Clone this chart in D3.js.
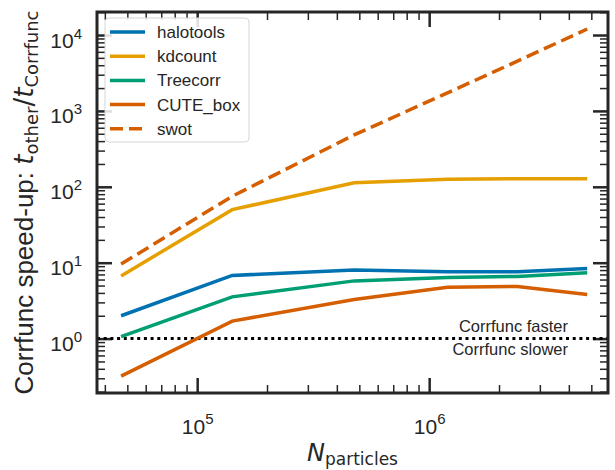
<!DOCTYPE html>
<html>
<head>
<meta charset="utf-8">
<script src="https://cdn.jsdelivr.net/npm/d3@7"></script>
<style>
  body { margin: 0; background: #fff; }
  text { font-family: "Liberation Sans", Arial, sans-serif; fill: #262626; }
</style>
</head>
<body>
<script>
// chart data
var nParticles = [47000, 141600, 475000, 1200000, 2400000, 4800000];
var halotools  = [2.0, 6.8, 8.0, 7.6, 7.6, 8.4];
var kdcount    = [6.7, 50, 113, 126, 128, 128];
var treecorr   = [1.06, 3.55, 5.76, 6.4, 6.6, 7.4];
var cuteBox    = [0.32, 1.70, 3.28, 4.76, 4.86, 3.81];
var swot       = [9.6, 75, 483, 1730, 4520, 12000];

var seriesNames  = ["halotools", "kdcount", "Treecorr", "CUTE_box", "swot"];
var seriesValues = [halotools, kdcount, treecorr, cuteBox, swot];
var seriesColors = ["#0072B2", "#E69F00", "#009E73", "#D55E00", "#D55E00"];
var seriesDash   = [null, null, null, null, "13,6"];

var xMajor = [1e5, 1e6];
var yMajor = [1, 10, 100, 1000, 10000];

var width = 615, height = 470;
var mLeft = 97, mRight = 608, mTop = 12, mBottom = 393;

var svg = d3.select("body").append("svg")
  .attr("width", width)
  .attr("height", height);

var x = d3.scaleLog().domain([3.7e4, 5.9e6]).range([mLeft, mRight]);
var y = d3.scaleLog().domain([0.192, 2.01e4]).range([mBottom, mTop]);

var isPow = function(v) { return Math.abs(Math.log10(v) - Math.round(Math.log10(v))) < 1e-6; };
var xMinor = x.ticks().filter(function(v) { return !isPow(v); });
var yMinor = y.ticks().filter(function(v) { return !isPow(v); });

// ticks on every side, pointing inward
function addAxis(axis, tx, ty, vals, size, w) {
  var g = svg.append("g")
    .attr("transform", "translate(" + tx + "," + ty + ")")
    .call(axis.tickValues(vals).tickSizeInner(-size).tickSizeOuter(0).tickFormat(""));
  g.select(".domain").remove();
  g.selectAll("line").attr("stroke", "#262626").attr("stroke-width", w);
  return g;
}
addAxis(d3.axisBottom(x), 0, mBottom, xMinor, 8, 1.5);
addAxis(d3.axisTop(x), 0, mTop, xMinor, 8, 1.5);
addAxis(d3.axisLeft(y), mLeft, 0, yMinor, 8, 1.5);
addAxis(d3.axisRight(y), mRight, 0, yMinor, 8, 1.5);
var gxB = addAxis(d3.axisBottom(x), 0, mBottom, xMajor, 15, 2.5);
addAxis(d3.axisTop(x), 0, mTop, xMajor, 15, 2.5);
var gyL = addAxis(d3.axisLeft(y), mLeft, 0, yMajor, 15, 2.5);
addAxis(d3.axisRight(y), mRight, 0, yMajor, 15, 2.5);

// power-of-ten labels
gxB.selectAll(".tick text").each(function(d) {
  var t = d3.select(this).text(null)
    .attr("y", 41).attr("dy", null)
    .attr("text-anchor", "middle")
    .style("font-size", "21px");
  t.append("tspan").text("10");
  t.append("tspan").attr("dy", -10).style("font-size", "15px").text(Math.round(Math.log10(d)));
});
gyL.selectAll(".tick text").each(function(d) {
  var t = d3.select(this).text(null)
    .attr("x", -15).attr("dy", null).attr("y", 12)
    .attr("text-anchor", "end")
    .style("font-size", "21px");
  t.append("tspan").text("10");
  t.append("tspan").attr("dy", -9).style("font-size", "15px").text(Math.round(Math.log10(d)));
});

// break-even line
svg.append("line")
  .attr("x1", mLeft).attr("x2", mRight)
  .attr("y1", y(1)).attr("y2", y(1))
  .attr("stroke", "#000")
  .attr("stroke-width", 3)
  .attr("stroke-dasharray", "3,3.7");

svg.append("text").attr("x", 568).attr("y", y(1) - 7)
  .attr("text-anchor", "end").style("font-size", "16.5px").text("Corrfunc faster");
svg.append("text").attr("x", 568).attr("y", y(1) + 16)
  .attr("text-anchor", "end").style("font-size", "16.5px").text("Corrfunc slower");

var line = d3.line()
  .x(function(d, i) { return x(nParticles[i]); })
  .y(function(d) { return y(d); });

seriesValues.forEach(function(vals, k) {
  svg.append("path")
    .attr("d", line(vals))
    .attr("fill", "none")
    .attr("stroke", seriesColors[k])
    .attr("stroke-width", 3.5)
    .attr("stroke-dasharray", seriesDash[k]);
});

// frame
svg.append("rect")
  .attr("x", mLeft).attr("y", mTop)
  .attr("width", mRight - mLeft).attr("height", mBottom - mTop)
  .attr("fill", "none").attr("stroke", "#262626").attr("stroke-width", 3);

// legend
var lg = svg.append("g");
lg.append("rect")
  .attr("x", 105).attr("y", 18).attr("width", 144).attr("height", 124).attr("rx", 4)
  .attr("fill", "#fff").attr("fill-opacity", 0.85)
  .attr("stroke", "#d5d5d5").attr("stroke-width", 1);
seriesNames.forEach(function(name, k) {
  var yy = 32 + k * 24.2;
  lg.append("line").attr("x1", 110).attr("x2", 145).attr("y1", yy).attr("y2", yy)
    .attr("stroke", seriesColors[k]).attr("stroke-width", 3.5)
    .attr("stroke-dasharray", seriesDash[k]);
  lg.append("text").attr("x", 157).attr("y", yy + 6)
    .style("font-size", "17px").text(name);
});

// axis titles
var xl = svg.append("text")
  .attr("x", (mLeft + mRight) / 2).attr("y", 461)
  .attr("text-anchor", "middle")
  .style("font-family", "DejaVu Sans").style("font-size", "24px");
xl.append("tspan").style("font-style", "italic").text("N");
xl.append("tspan").attr("dy", 4).style("font-size", "17px").text("particles");

var yl = svg.append("text")
  .attr("transform", "translate(33," + ((mTop + mBottom) / 2) + ") rotate(-90)")
  .attr("text-anchor", "middle")
  .style("font-size", "26px");
yl.append("tspan").text("Corrfunc speed-up: ");
yl.append("tspan").style("font-family", "DejaVu Sans").style("font-style", "italic").text("t");
yl.append("tspan").attr("dy", 5).style("font-family", "DejaVu Sans").style("font-size", "18px").text("other");
yl.append("tspan").attr("dy", -5).style("font-family", "DejaVu Sans").text("/");
yl.append("tspan").style("font-family", "DejaVu Sans").style("font-style", "italic").text("t");
yl.append("tspan").attr("dy", 5).style("font-family", "DejaVu Sans").style("font-size", "18px").text("Corrfunc");
</script>
</body>
</html>
